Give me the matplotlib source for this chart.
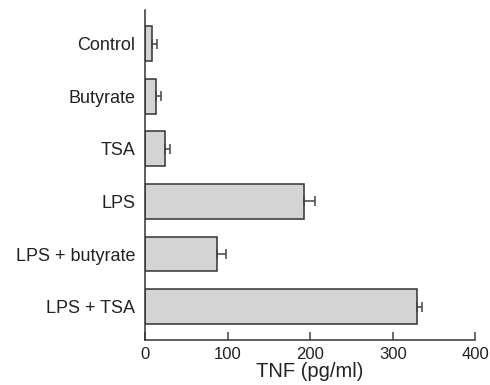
import matplotlib
matplotlib.use("Agg")
import matplotlib.pyplot as plt

categories = ["Control", "Butyrate", "TSA", "LPS", "LPS + butyrate", "LPS + TSA"]
values = [9, 13, 24, 192, 87, 329]
errors = [5, 6, 6, 14, 11, 7]
xticks = [0, 100, 200, 300, 400]
xlabel = "TNF (pg/ml)"

plt.rcParams['font.family'] = ['Liberation Sans', 'DejaVu Sans']

fig = plt.figure(figsize=(4.9, 3.85), dpi=100)
ax = fig.add_axes([145/490, 1-340/385, (475.3-145)/490, (340-10)/385])

y = list(range(len(categories)))
ax.barh(y, values, height=0.66, color="#d4d4d5", edgecolor="#333333", linewidth=1.1)
ax.errorbar(values, y, xerr=[[0]*len(errors), errors], fmt='none',
            ecolor="#444444", elinewidth=1.1, capsize=3.8, capthick=1.1)

ax.set_xlim(0, 400)
ax.set_ylim(5.633, -0.637)
ax.set_yticks(y)
ax.set_yticklabels(categories, fontsize=13, color="#222222")
ax.set_xticks(xticks)
ax.set_xticklabels([str(t) for t in xticks], fontsize=12, color="#222222")
ax.tick_params(axis='y', length=0, pad=7)
ax.tick_params(axis='x', direction='in', length=6, width=1.1, color="#444444", pad=5)
ax.set_xlabel(xlabel, fontsize=14.5, color="#222222", labelpad=0)

for s in ['top', 'right']:
    ax.spines[s].set_visible(False)
for s in ['left', 'bottom']:
    ax.spines[s].set_linewidth(1.1)
    ax.spines[s].set_color("#333333")

fig.savefig("out.png", dpi=100)
